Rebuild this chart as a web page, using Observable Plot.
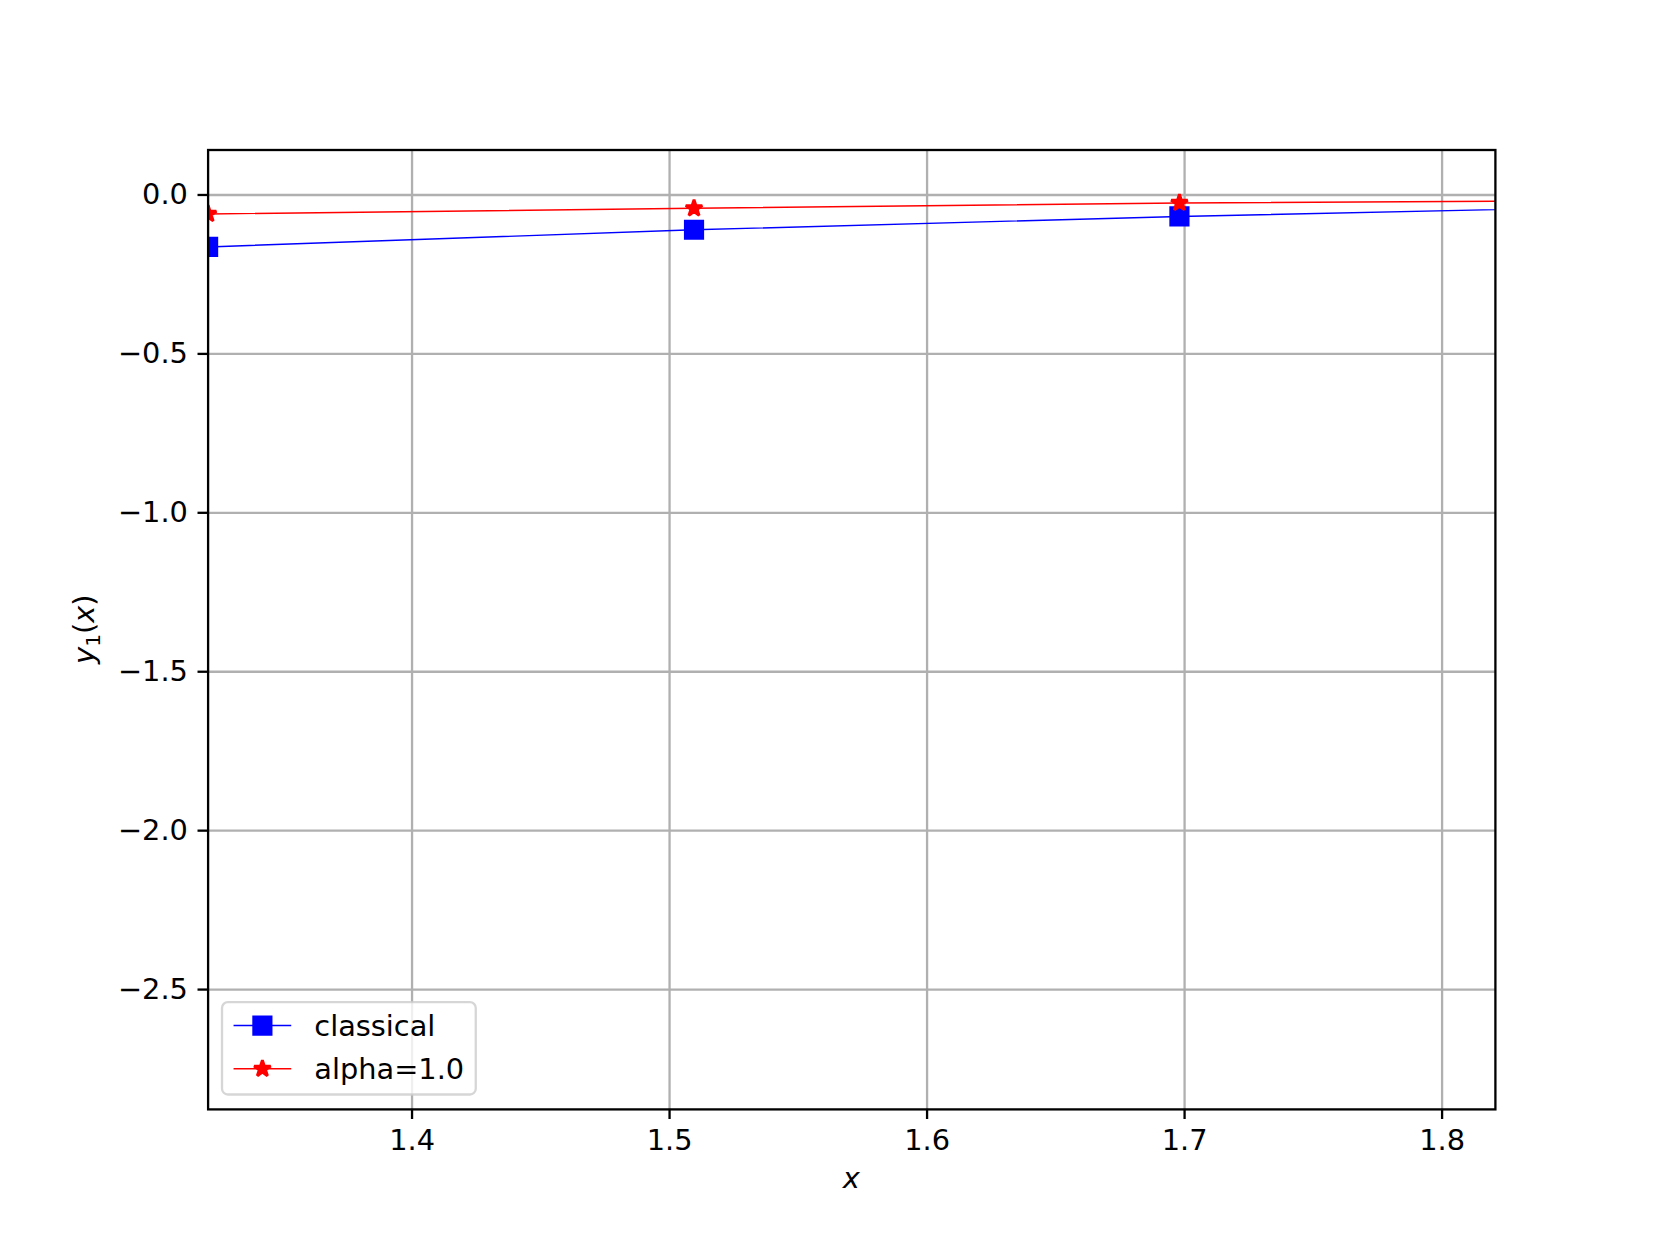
<!DOCTYPE html>
<html><head><meta charset="utf-8">
<script src="https://cdn.jsdelivr.net/npm/d3@7"></script>
<script src="https://cdn.jsdelivr.net/npm/@observablehq/plot@0.6"></script>
<style>body{margin:0;background:#fff;} svg{display:block}</style>
</head><body><div id="chart"></div>
<script>
// ---- data ----
const xValues = [1.3208, 1.5095, 1.6980, 1.8865];
const classicalValues = [-0.1635, -0.1095, -0.0676, -0.0345];
const alphaValues = [-0.0597, -0.0420, -0.0250, -0.0172];
const seriesNames = ["classical", "alpha=1.0"];
const seriesColors = ["#0000ff", "#ff0000"];
const xTicks = [1.4, 1.5, 1.6, 1.7, 1.8];
const yTicks = [0.0, -0.5, -1.0, -1.5, -2.0, -2.5];
const xDomain = [1.3208, 1.8207];
const yDomain = [-2.877, 0.1415];

// ---- layout ----
const W = 1661, H = 1246;
const ML = 207.6, MR = 166.1, MT = 149.5, MB = 137.1;
const PT = W / 8 / 72;      // px per point
const FS = 10 * PT;         // 10pt font

const classical = xValues.map((x, i) => ({x, y: classicalValues[i]}));
const alpha = xValues.map((x, i) => ({x, y: alphaValues[i]}));

const squareR = Math.sqrt((6 * PT) ** 2 / Math.PI);
const starR = Math.sqrt(((3 * PT) ** 2 / 0.8908130915292852) / Math.PI);

const plot = Plot.plot({
  width: W, height: H,
  marginLeft: ML, marginRight: MR, marginTop: MT, marginBottom: MB,
  style: {fontFamily: "'DejaVu Sans', sans-serif", fontSize: FS + "px", background: "white", color: "black", overflow: "visible"},
  x: {domain: xDomain},
  y: {domain: yDomain},
  marks: [
    Plot.gridX(xTicks, {stroke: "#b0b0b0", strokeOpacity: 1, strokeWidth: 0.8 * PT}),
    Plot.gridY(yTicks, {stroke: "#b0b0b0", strokeOpacity: 1, strokeWidth: 0.8 * PT}),
    Plot.line(classical, {x: "x", y: "y", stroke: seriesColors[0], strokeWidth: 0.5 * PT, clip: true}),
    Plot.dot(classical, {x: "x", y: "y", symbol: "square", r: squareR, fill: seriesColors[0], stroke: seriesColors[0], strokeWidth: PT, clip: true}),
    Plot.line(alpha, {x: "x", y: "y", stroke: seriesColors[1], strokeWidth: 0.5 * PT, clip: true}),
    Plot.dot(alpha, {x: "x", y: "y", symbol: "star", r: starR, fill: seriesColors[1], stroke: seriesColors[1], strokeWidth: PT, strokeLinejoin: "bevel", clip: true}),
    Plot.frame({stroke: "black", strokeWidth: 0.8 * PT}),
    Plot.axisX(xTicks, {tickSize: 3.5 * PT, tickPadding: 3.5 * PT, tickFormat: d3.format(".1f"), label: null, strokeWidth: 0.8 * PT}),
    Plot.axisY(yTicks, {tickSize: 3.5 * PT, tickPadding: 3.5 * PT, tickFormat: d3.format(".1f"), label: null, strokeWidth: 0.8 * PT})
  ]
});
document.getElementById("chart").appendChild(plot);

const svg = d3.select(plot);

// axis labels (mathtext style)
svg.append("text")
  .attr("x", ML + (W - ML - MR) / 2).attr("y", 1187.5)
  .attr("text-anchor", "middle").attr("font-size", FS).attr("fill", "black")
  .attr("font-family", "'DejaVu Sans', sans-serif").attr("font-style", "italic")
  .text("x");

const yl = svg.append("text")
  .attr("transform", `translate(94,${MT + (H - MT - MB) / 2}) rotate(-90)`)
  .attr("text-anchor", "middle").attr("font-size", FS).attr("fill", "black")
  .attr("font-family", "'DejaVu Sans', sans-serif");
yl.append("tspan").attr("font-style", "italic").text("y");
yl.append("tspan").attr("font-size", FS * 0.7).attr("dy", FS * 0.2).text("1");
yl.append("tspan").attr("dy", -FS * 0.2).text("(");
yl.append("tspan").attr("font-style", "italic").text("x");
yl.append("tspan").text(")");

// legend
const bx = ML + 0.5 * FS;
const bh = 3.2 * FS;
const by = H - MB - 0.5 * FS - bh;
const lg = svg.append("g").attr("text-anchor", "start");
const rect = lg.append("rect")
  .attr("x", bx).attr("y", by).attr("height", bh)
  .attr("rx", 0.2 * FS).attr("ry", 0.2 * FS)
  .attr("fill", "white").attr("fill-opacity", 0.8)
  .attr("stroke", "#cccccc").attr("stroke-opacity", 0.8).attr("stroke-width", 0.8 * PT);
let maxW = 0;
const sym = [d3.symbolSquare, d3.symbolStar];
const symSize = [(6 * PT) ** 2, (3 * PT) ** 2 / 0.8908130915292852];
seriesNames.forEach((name, i) => {
  const cy = by + 0.81 * FS + i * 1.5 * FS;
  const hx0 = bx + 0.4 * FS, hx1 = hx0 + 2 * FS;
  lg.append("line").attr("x1", hx0).attr("x2", hx1).attr("y1", cy).attr("y2", cy)
    .attr("stroke", seriesColors[i]).attr("stroke-width", 0.5 * PT);
  lg.append("path").attr("d", d3.symbol(sym[i], symSize[i])())
    .attr("transform", `translate(${(hx0 + hx1) / 2},${cy})`)
    .attr("fill", seriesColors[i]).attr("stroke", seriesColors[i]).attr("stroke-width", PT)
    .attr("stroke-linejoin", i ? "bevel" : "miter");
  const t = lg.append("text").attr("x", hx1 + 0.8 * FS).attr("y", cy).attr("dy", "0.36em")
    .attr("text-anchor", "start")
    .attr("font-size", FS).attr("fill", "black")
    .attr("font-family", "'DejaVu Sans', sans-serif").text(name);
  maxW = Math.max(maxW, t.node().getComputedTextLength());
});
rect.attr("width", 3.6 * FS + maxW);
</script>
</body></html>
